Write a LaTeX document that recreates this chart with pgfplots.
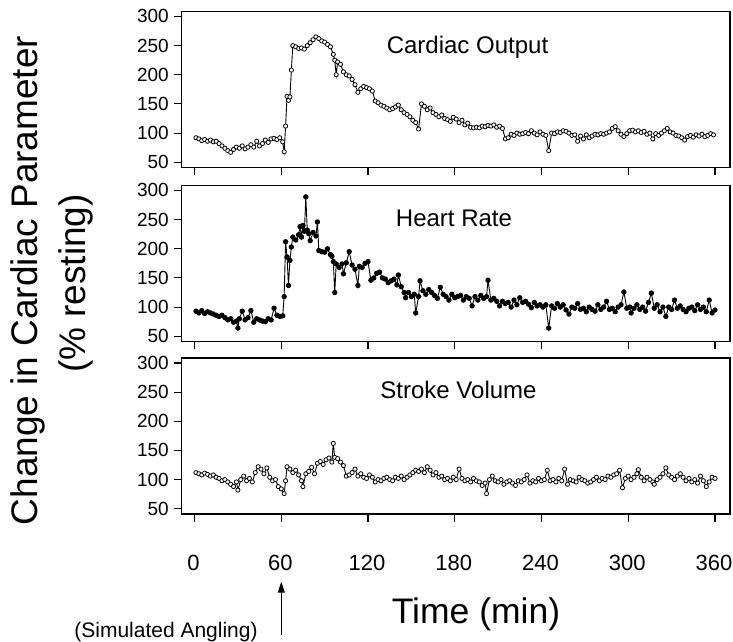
\documentclass[border=0pt]{standalone}
\usepackage{fontspec}
\setmainfont{Liberation Sans}
\usepackage{pgfplots}
\pgfplotsset{compat=1.18}
\usetikzlibrary{arrows.meta}
\pgfplotsset{
  panel/.style={
    scale only axis, width=548.5pt, height=156pt,
    xmin=-9, xmax=370.4, ymin=41, ymax=308.5,
    xtick={0,60,...,360}, ytick={50,100,...,300},
    tick align=outside, xtick pos=bottom, ytick pos=left,
    major tick length=8pt,
    axis line style={line width=1.3pt},
    every tick/.style={line width=1.1pt, black},
    /pgf/number format/assume math mode=true,
    yticklabel style={font=\fontsize{19}{19}\selectfont, inner sep=0pt, anchor=east, xshift=-4.5pt},
    clip=false,
  },
  dat/.style={black, line width=0.9pt, mark=*, mark size=2.1pt, mark options={fill=white, line width=0.8pt}},
}
\begin{document}
\begin{tikzpicture}
\useasboundingbox (0pt,0pt) rectangle (733pt,642pt);
% ---------- Cardiac Output ----------
\begin{axis}[panel, at={(181.5pt,474.5pt)}, anchor=south west, xticklabels={}]
\addplot[dat] coordinates {
(1,92)(3,90)(5,87)(7,89)(9,86)(11,88)(13,85)(15,86)(17,82)(19,78)(21,74)(23,70)(25,67)(27,72)(29,76)
(31,74)(33,78)(35,73)(37,76)(39,80)(41,76)(43,86)(45,78)(47,82)(49,88)(51,84)(53,90)(55,91)(57,89)(59,92)
(61,85)(62,68)(63,112)(64,163)(65,156)(66,162)(67,208)(68,250)(70,248)(72,245)(74,246)(76,244)(78,250)(80,255)
(82,260)(84,265)(86,262)(88,258)(90,256)(92,252)(94,248)(96,235)(97,225)(98,200)(99,222)(101,218)(103,205)
(105,200)(107,198)(109,192)(111,183)(113,170)(115,176)(117,180)(119,178)(121,176)(123,172)(125,155)(127,152)
(129,148)(131,146)(133,143)(135,140)(137,142)(139,145)(141,148)(143,140)(145,135)(147,132)(149,128)(151,122)
(153,118)(155,107)(157,150)(159,146)(161,140)(163,143)(165,135)(167,132)(169,128)(171,131)(173,125)(175,123)
(177,120)(179,127)(181,124)(183,118)(185,122)(187,114)(189,117)(191,110)(193,109)(195,110)(197,109)(199,112)
(201,111)(203,113)(205,112)(207,114)(209,110)(211,112)(213,108)(215,90)(217,92)(219,98)(221,96)(223,100)
(225,98)(227,99)(229,101)(231,99)(233,104)(235,100)(237,97)(239,102)(241,98)(243,96)(245,70)(247,100)
(249,99)(251,102)(253,101)(255,104)(257,103)(259,100)(261,96)(263,97)(265,86)(267,95)(269,90)(271,97)
(273,92)(275,95)(277,98)(279,97)(281,99)(283,98)(285,100)(287,102)(289,108)(291,111)(293,104)(295,98)
(297,94)(299,99)(301,104)(303,105)(305,102)(307,104)(309,101)(311,103)(313,98)(315,100)(317,90)(319,99)
(321,96)(323,100)(325,104)(327,108)(329,102)(331,100)(333,96)(335,95)(337,92)(339,88)(341,94)(343,96)
(345,93)(347,97)(349,95)(351,98)(353,94)(355,96)(357,99)(359,97)
};
\end{axis}
% ---------- Heart Rate ----------
\begin{axis}[panel, at={(181.5pt,300.5pt)}, anchor=south west, xticklabels={}]
\addplot[black, line width=0.9pt, mark=*, mark size=2.2pt] coordinates {
(1,93)(3,90)(5,94)(7,89)(9,92)(11,90)(13,88)(15,86)(17,84)(19,86)(21,82)(23,78)(25,80)(27,74)(29,76)
(30,64)(31,80)(33,93)(35,78)(37,82)(39,94)(41,74)(43,80)(45,78)(47,76)(49,75)(51,80)(53,78)(55,98)(57,86)
(59,84)(61,85)(62,118)(63,212)(64,186)(65,137)(66,180)(67,203)(68,220)(70,215)(72,224)(73,238)(74,220)
(75,240)(76,230)(77,289)(78,232)(79,226)(80,214)(82,228)(84,222)(85,246)(86,197)(88,195)(90,194)(92,200)
(94,190)(95,187)(96,178)(97,125)(98,174)(100,168)(102,174)(103,157)(105,176)(107,195)(109,172)(111,165)
(113,137)(114,170)(116,168)(118,175)(120,178)(122,146)(124,150)(126,158)(128,160)(130,150)(132,148)(134,142)
(136,145)(138,148)(140,138)(141,155)(143,135)(145,125)(146,116)(148,125)(150,118)(152,122)(153,90)(155,118)
(156,145)(158,128)(160,122)(162,130)(164,125)(166,120)(168,115)(170,134)(172,122)(174,118)(176,112)(178,122)
(180,116)(182,118)(184,120)(186,112)(188,118)(190,115)(192,102)(194,118)(196,112)(198,120)(200,115)(202,118)
(203,146)(205,112)(207,115)(209,110)(211,102)(213,110)(215,106)(217,108)(219,100)(221,112)(223,104)(225,116)
(227,108)(229,110)(231,105)(233,99)(235,108)(237,102)(239,104)(241,100)(243,104)(245,64)(247,102)(249,98)
(251,106)(253,100)(255,104)(257,95)(259,88)(261,100)(263,98)(265,106)(267,96)(269,98)(271,92)(273,100)
(275,96)(277,93)(279,104)(281,96)(283,100)(285,110)(287,96)(289,98)(291,92)(293,100)(295,104)(297,126)
(299,98)(301,100)(302,90)(304,98)(306,104)(308,96)(310,100)(312,93)(314,108)(316,124)(318,98)(320,104)
(322,92)(324,100)(326,84)(328,100)(330,96)(332,112)(334,98)(336,102)(338,96)(340,92)(342,98)(344,100)
(346,94)(348,104)(350,96)(352,100)(354,92)(356,112)(358,90)(360,95)
};
\end{axis}
% ---------- Stroke Volume ----------
\begin{axis}[panel, at={(181.5pt,128pt)}, anchor=south west,
  xticklabel style={font=\fontsize{22}{22}\selectfont, inner sep=0pt, anchor=center, yshift=-40.5pt, xshift=-0.9pt}]
\addplot[dat] coordinates {
(1,112)(3,110)(5,108)(7,111)(9,109)(11,106)(13,108)(15,104)(17,102)(19,98)(21,100)(23,96)(25,92)(27,88)
(29,96)(30,82)(32,100)(34,106)(36,98)(38,102)(40,96)(42,112)(44,122)(46,118)(48,110)(50,120)(52,104)(54,98)
(56,100)(58,88)(60,84)(62,76)(63,98)(64,122)(66,118)(68,112)(70,116)(72,108)(74,98)(75,88)(77,110)(79,114)
(81,121)(83,110)(85,128)(87,131)(89,126)(91,134)(93,137)(95,130)(96,162)(97,138)(99,136)(101,130)(103,124)
(105,106)(107,108)(109,112)(111,118)(113,106)(115,110)(117,104)(119,102)(121,108)(123,104)(125,96)(127,100)
(129,98)(131,102)(133,104)(135,100)(137,98)(139,104)(141,102)(143,106)(145,100)(147,104)(149,108)(151,112)
(153,116)(155,114)(157,118)(159,112)(161,122)(163,116)(165,108)(167,112)(169,104)(171,106)(173,100)(175,102)
(177,98)(179,104)(181,100)(183,118)(185,102)(187,98)(189,100)(191,96)(193,102)(195,98)(197,96)(199,90)
(201,94)(202,76)(204,100)(206,106)(208,98)(210,96)(212,100)(214,92)(216,96)(218,98)(220,94)(222,90)(224,98)
(226,96)(228,100)(230,108)(232,94)(234,98)(236,96)(238,102)(240,98)(242,100)(244,116)(246,98)(248,100)
(250,96)(252,102)(254,98)(256,118)(258,92)(260,100)(262,98)(264,96)(266,104)(268,100)(270,98)(272,94)
(274,96)(276,100)(278,104)(280,98)(282,102)(284,100)(286,106)(288,104)(290,108)(292,110)(294,116)(296,86)
(298,102)(300,106)(302,100)(304,104)(306,110)(307,117)(309,104)(311,98)(313,104)(315,100)(317,96)(318,92)
(320,100)(322,104)(324,110)(326,120)(328,108)(330,104)(332,100)(334,106)(336,110)(338,104)(340,98)(342,102)
(344,96)(346,100)(348,94)(350,106)(352,98)(354,88)(356,96)(358,104)(360,102)
};
\end{axis}
% ---------- titles and labels ----------
\node[anchor=base, font=\fontsize{24}{24}\selectfont] at (467.5pt,588pt) {Cardiac Output};
\node[anchor=base, font=\fontsize{24}{24}\selectfont] at (454pt,415.3pt) {Heart Rate};
\node[anchor=base, font=\fontsize{24}{24}\selectfont] at (458.5pt,243.7pt) {Stroke Volume};
\node[rotate=90, anchor=base, inner sep=0pt, font=\fontsize{37}{37}\selectfont] at (37pt,361.5pt) {Change in Cardiac Parameter};
\node[rotate=90, anchor=base, inner sep=0pt, font=\fontsize{37}{37}\selectfont] at (85pt,358.5pt) {(\% resting)};
\node[anchor=base, inner sep=0pt, font=\fontsize{35.5}{35.5}\selectfont] at (476pt,18.7pt) {Time (min)};
\node[anchor=base, inner sep=0pt, font=\fontsize{21}{21}\selectfont] at (166pt,4.7pt) {(Simulated Angling)};
\draw[line width=1pt, -{Triangle[length=11pt,width=7pt]}] (281.3pt,7pt) -- (281.3pt,60.3pt);
\end{tikzpicture}
\end{document}
